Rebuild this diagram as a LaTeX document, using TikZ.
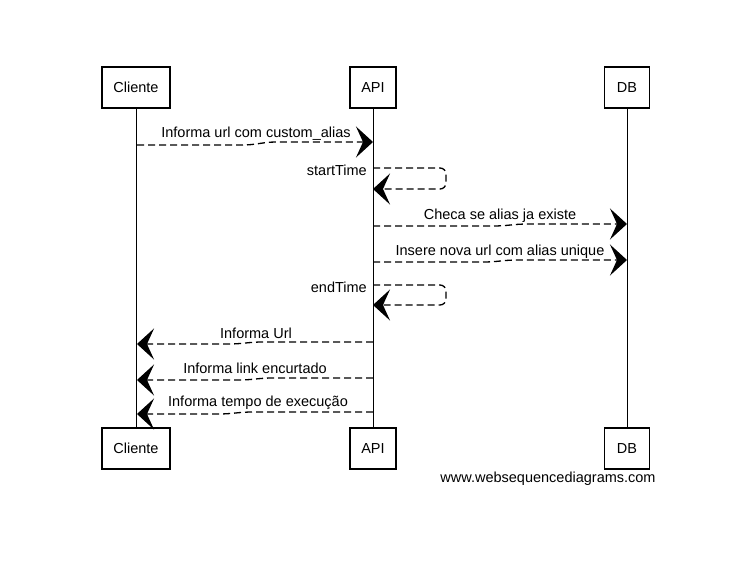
\documentclass[tikz,border=0pt]{standalone}
\usepackage{fontspec}
\setmainfont{Liberation Sans}
\usetikzlibrary{arrows.meta}
\begin{document}
\begin{tikzpicture}[x=1pt,y=-1pt,
  actor/.style={draw=black, line width=1.1pt, fill=white, minimum height=41pt, inner sep=0pt, font=\fontsize{14.5}{16}\selectfont},
  life/.style={line width=1pt},
  msg/.style={line width=1.3pt, dash pattern=on 7pt off 4pt, -{Stealth[length=17pt,width=31pt,inset=7pt]}},
  lbl/.style={font=\fontsize{14.5}{16}\selectfont, inner sep=0pt}]
\useasboundingbox (0,0) rectangle (749,580);
\fill[white] (0,0) rectangle (749,580);
% actors
\node[actor, minimum width=68pt] (ct) at (136,87.5) {Cliente};
\node[actor, minimum width=46pt] (at) at (373,87.5) {API};
\node[actor, minimum width=45pt] (dt) at (627,87.5) {DB};
\node[actor, minimum width=68pt] (cb) at (136,448.5) {Cliente};
\node[actor, minimum width=46pt] (ab) at (373,448.5) {API};
\node[actor, minimum width=45pt] (db) at (627,448.5) {DB};
% lifelines
\draw[life] (ct.south) -- (cb.north);
\draw[life] (at.south) -- (ab.north);
\draw[life] (dt.south) -- (db.north);
% message anchor points
\coordinate (c1) at (137,145); \coordinate (a1) at (373,142);
\coordinate (s1) at (373,168); \coordinate (s1e) at (373,189);
\coordinate (a3) at (373,226); \coordinate (d3) at (627,224);
\coordinate (a4) at (373,262); \coordinate (d4) at (627,260);
\coordinate (s2) at (373,285); \coordinate (s2e) at (373,305);
\coordinate (a6) at (373,342); \coordinate (c6) at (137,344);
\coordinate (a7) at (373,378); \coordinate (c7) at (137,380);
\coordinate (a8) at (373,412); \coordinate (c8) at (137,414);
% messages
\draw[msg] (c1) -- ++(105,0) .. controls +(15,0) and +(-15,0) .. ++(35,-3) -- (a1);
\node[lbl] (l1) at (256,134) {Informa url com custom\_alias};
\draw[msg, rounded corners=6pt] (s1) -- (446,168) -- (446,189) -- (s1e);
\node[lbl, anchor=east] (l2) at (367,170) {startTime};
\draw[msg] (a3) -- ++(120,0) .. controls +(15,0) and +(-15,0) .. ++(35,-2) -- (d3);
\node[lbl] (l3) at (500,215.5) {Checa se alias ja existe};
\draw[msg] (a4) -- ++(110,0) .. controls +(15,0) and +(-15,0) .. ++(35,-2) -- (d4);
\node[lbl] (l4) at (500,251.5) {Insere nova url com alias unique};
\draw[msg, rounded corners=6pt] (s2) -- (446,285) -- (446,305) -- (s2e);
\node[lbl, anchor=east] (l5) at (367,287) {endTime};
\draw[msg] (a6) -- ++(-110,0) .. controls +(-15,0) and +(15,0) .. ++(-35,2) -- (c6);
\node[lbl] (l6) at (256,333) {Informa Url};
\draw[msg] (a7) -- ++(-100,0) .. controls +(-15,0) and +(15,0) .. ++(-35,2) -- (c7);
\node[lbl] (l7) at (255,368.5) {Informa link encurtado};
\draw[msg] (a8) -- ++(-120,0) .. controls +(-15,0) and +(15,0) .. ++(-35,2) -- (c8);
\node[lbl] (l8) at (258,403) {Informa tempo de execução};
\node[lbl] (wm) at (548,479) {www.websequencediagrams.com};
\end{tikzpicture}
\end{document}
